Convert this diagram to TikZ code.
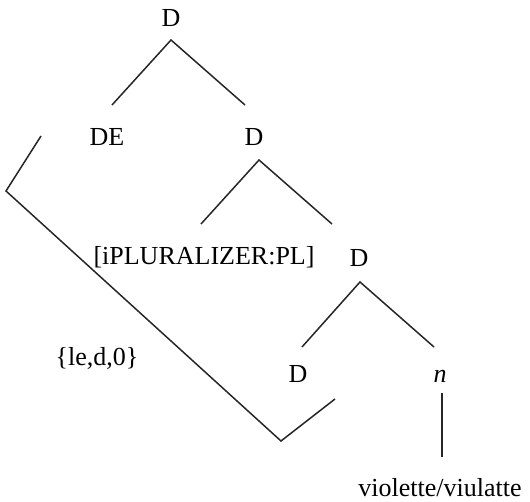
\documentclass[tikz,border=0pt]{standalone}
\usepackage{fontspec}
\setmainfont{Liberation Serif}
\begin{document}
\begin{tikzpicture}[x=1pt,y=-1pt,
  lbl/.style={anchor=base,inner sep=0pt,font=\fontsize{26}{31}\selectfont},
  branch/.style={line width=1.5pt,color=black!85,line cap=butt,line join=miter}]
\useasboundingbox (0,0) rectangle (530,502);

% labels
\node[lbl] (d1) at (171,27) {D};
\node[lbl] (de) at (107,146) {DE};
\node[lbl] (d2) at (254,146) {D};
\node[lbl] (pl) at (204,265) {[iPLURALIZER:PL]};
\node[lbl] (d3) at (359,267) {D};
\node[lbl] (le) at (97,366) {\{le,d,0\}};
\node[lbl] (d4) at (298,383) {D};
\node[lbl] (n) at (440,383) {\textit{n}};
\node[lbl] (vv) at (440,496) {violette/viulatte};

% branch end points
\coordinate (a1) at (171,40);
\coordinate (a1l) at (112,105);
\coordinate (a1r) at (245,105);
\coordinate (a2) at (259,160);
\coordinate (a2l) at (201,224);
\coordinate (a2r) at (332,224);
\coordinate (a3) at (360,282);
\coordinate (a3l) at (302,347);
\coordinate (a3r) at (434,347);
\coordinate (nt) at (442,393);
\coordinate (nb) at (442,457);
% movement path
\coordinate (m0) at (41,136);
\coordinate (m1) at (6,191);
\coordinate (m2) at (281,441);
\coordinate (m3) at (335,399);

\draw[branch] (a1l) -- (a1) -- (a1r);
\draw[branch] (a2l) -- (a2) -- (a2r);
\draw[branch] (a3l) -- (a3) -- (a3r);
\draw[branch] (nt) -- (nb);
\draw[branch] (m0) -- (m1) -- (m2) -- (m3);
\end{tikzpicture}
\end{document}
